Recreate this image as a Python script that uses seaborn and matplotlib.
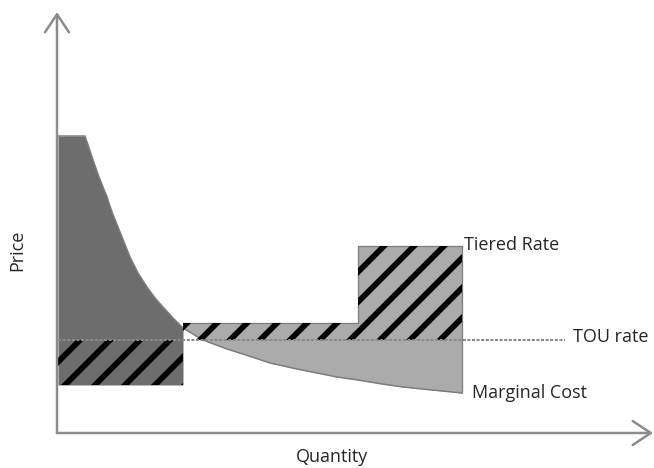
import numpy as np
import pandas as pd
import seaborn as sns
import matplotlib.pyplot as plt

# -----------------------
# Data (arbitrary units)
# -----------------------
mc_q = [1, 28, 32, 36, 42, 50, 55, 61, 67, 73, 81, 90, 98, 106, 116, 126,
        136, 146, 170, 195, 213, 240, 260, 280, 301, 325, 346, 375, 405]
mc_p = [297, 297, 285, 273, 256, 236, 221, 206, 191, 176, 160, 146, 135, 126,
        115, 105, 99, 93, 84, 76, 70, 64, 60, 56, 53, 49, 46, 43, 40]

tier_edges = [1, 126, 301, 405]
tier_levels = [48, 110, 187]

tou_rate = 93
tou_end = 508

labels = {"tier": "Tiered Rate", "tou": "TOU rate", "mc": "Marginal Cost"}

# -----------------------
# Setup
# -----------------------
sns.set_theme(style="white")
plt.rcParams["font.family"] = ["Open Sans", "DejaVu Sans"]
plt.rcParams["hatch.linewidth"] = 2.3
plt.rcParams["hatch.color"] = "black"

DPI = 180
fig = plt.figure(figsize=(654 / DPI, 468 / DPI), dpi=DPI)
ax = fig.add_axes([0, 0, 1, 1])

mc = pd.DataFrame({"q": mc_q, "p": mc_p})
DARK, LIGHT, EDGE = "#6d6d6d", "#ababab", "#7c7c7c"
steps = tier_levels + [tier_levels[-1]]

# dark area: consumer block under the curve
d = mc[mc.q <= tier_edges[1]]
ax.fill_between(d.q, tier_levels[0], d.p, color=DARK, lw=0, zorder=1)

# light area: between marginal cost and the tiered rate (one polygon)
parts = []
for i in (1, 2):
    s = mc[(mc.q >= tier_edges[i]) & (mc.q <= tier_edges[i + 1])].copy()
    s["top"] = tier_levels[i]
    parts.append(s)
light = pd.concat(parts)
ax.fill_between(light.q, light.p, light.top, color=LIGHT, lw=0, zorder=1)

# outline of the tiered rate
ax.step(tier_edges[1:], steps[1:], where="post", color=EDGE, lw=0.5, zorder=2)
ax.vlines(tier_edges[-1], mc_p[-1], tier_levels[-1], color=EDGE, lw=0.5, zorder=2)

# hatched difference between tiered rate and TOU rate
ax.fill_between(tier_edges, tou_rate, steps, step="post", facecolor="none",
                edgecolor="black", lw=0, hatch="//", zorder=3)

# marginal cost curve and TOU line
sns.lineplot(data=mc, x="q", y="p", color=EDGE, lw=0.6, ax=ax, zorder=2)
sns.lineplot(x=[tier_edges[0], tou_end], y=[tou_rate, tou_rate],
             color="#8a8a8a", lw=0.8, linestyle=(0, (1.5, 0.8)), ax=ax, zorder=4)
ax.set_xlim(-57, 597)
ax.set_ylim(-35, 433)
ax.set_axis_off()

# axes arrows
arrow = dict(arrowstyle="->,head_length=0.6,head_width=0.4",
             color="#8c8c8c", lw=1.0, shrinkA=0, shrinkB=0)
ax.annotate("", xy=(596, 0), xytext=(0, 0), arrowprops=arrow)
ax.annotate("", xy=(0, 421), xytext=(0, 0), arrowprops=arrow)

# labels
tc = "#262626"
fs = 7.2
ax.text(407, 188, labels["tier"], fontsize=fs, color=tc, va="center", ha="left")
ax.text(516, 96, labels["tou"], fontsize=fs, color=tc, va="center", ha="left")
ax.text(415, 40, labels["mc"], fontsize=fs, color=tc, va="center", ha="left")
ax.text(275, -24, "Quantity", fontsize=fs, color=tc, va="center", ha="center")
ax.text(-40, 183, "Price", fontsize=fs, color=tc, va="center", ha="center",
        rotation=90)

fig.savefig("out.png", dpi=DPI)
